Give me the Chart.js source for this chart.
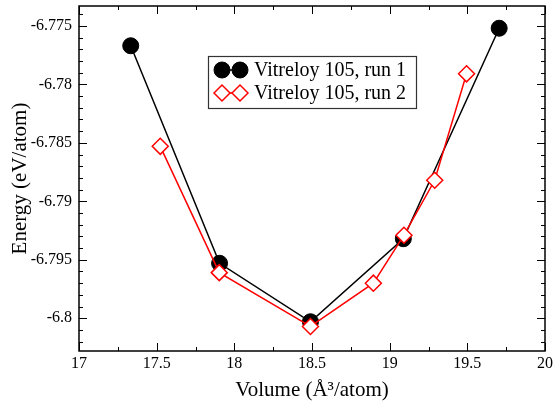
<!DOCTYPE html>
<html>
<head>
<meta charset="utf-8">
<script src="https://cdn.jsdelivr.net/npm/chart.js@4/dist/chart.umd.min.js"></script>
<style>
  html, body { margin: 0; padding: 0; background: #fff; }
  #wrap { width: 554px; height: 406px; }
</style>
</head>
<body>
<div id="wrap"><canvas id="myChart" width="554" height="406"></canvas></div>
<script>
// run 1 (black circles)
const run1Volume = [17.333, 17.905, 18.49, 19.088, 19.705];
const run1Energy = [-6.7767, -6.7953, -6.8003, -6.7932, -6.7752];
// run 2 (red diamonds)
const run2Volume = [17.523, 17.903, 18.49, 18.895, 19.092, 19.29, 19.495];
const run2Energy = [-6.7853, -6.7961, -6.8007, -6.797, -6.7929, -6.7882, -6.7791];

const seriesNames = ['Vitreloy 105, run 1', 'Vitreloy 105, run 2'];
const xTicks = [17, 17.5, 18, 18.5, 19, 19.5, 20];
const yTicks = [-6.8, -6.795, -6.79, -6.785, -6.78, -6.775];
const xMinorStep = 0.25;
const yMinorStep = 0.001;

const serif = "'Liberation Serif', 'Times New Roman', serif";
Chart.defaults.font.family = serif;
Chart.defaults.color = '#000';

const toPts = (xs, ys) => xs.map((x, i) => ({x: x, y: ys[i]}));

// frame + inward ticks like xmgrace
const framePlugin = {
    id: 'frame',
    afterDatasetsDraw(chart) {
        const ctx = chart.ctx;
        const a = chart.chartArea;
        const xs = chart.scales.x, ys = chart.scales.y;
        ctx.save();
        ctx.strokeStyle = '#000';
        ctx.lineWidth = 1.5;
        ctx.strokeRect(a.left, a.top, a.right - a.left, a.bottom - a.top);
        ctx.lineWidth = 1;
        ctx.beginPath();
        for (let v = xs.min; v <= xs.max + 1e-9; v += xMinorStep) {
            const major = xTicks.some(t => Math.abs(t - v) < 1e-9);
            const len = major ? 8 : 4;
            const px = Math.round(xs.getPixelForValue(v)) + 0.5;
            ctx.moveTo(px, a.bottom); ctx.lineTo(px, a.bottom - len);
            ctx.moveTo(px, a.top); ctx.lineTo(px, a.top + len);
        }
        const start = Math.ceil(ys.min / yMinorStep) * yMinorStep;
        for (let v = start; v <= ys.max + 1e-9; v += yMinorStep) {
            const major = yTicks.some(t => Math.abs(t - v) < 1e-7);
            const len = major ? 8 : 4;
            const py = Math.round(ys.getPixelForValue(v)) + 0.5;
            ctx.moveTo(a.left, py); ctx.lineTo(a.left + len, py);
            ctx.moveTo(a.right, py); ctx.lineTo(a.right - len, py);
        }
        ctx.stroke();
        ctx.restore();
    },
    afterDraw(chart) {
        // legend box
        const ctx = chart.ctx;
        const bx = 208, by = 56, bw = 208, bh = 52;
        ctx.save();
        ctx.fillStyle = '#fff';
        ctx.fillRect(bx, by, bw, bh);
        ctx.strokeStyle = '#333';
        ctx.lineWidth = 1.2;
        ctx.strokeRect(bx + 0.5, by + 0.5, bw, bh);
        const rows = [by + 14, by + 37];
        chart.data.datasets.forEach((ds) => {
            const row = ds.legendRow;
            const y = rows[row];
            const x1 = 222, x2 = 240;
            ctx.strokeStyle = ds.borderColor;
            ctx.lineWidth = ds.borderWidth;
            ctx.beginPath();
            ctx.moveTo(x1, y); ctx.lineTo(x2, y);
            ctx.stroke();
            [x1, x2].forEach(x => {
                ctx.fillStyle = ds.pointBackgroundColor;
                ctx.strokeStyle = ds.pointBorderColor;
                ctx.lineWidth = ds.pointBorderWidth;
                ctx.beginPath();
                if (ds.pointStyle === 'circle') {
                    ctx.arc(x, y, ds.pointRadius, 0, Math.PI * 2);
                } else {
                    const r = ds.pointRadius;
                    ctx.moveTo(x - r, y); ctx.lineTo(x, y - r);
                    ctx.lineTo(x + r, y); ctx.lineTo(x, y + r);
                    ctx.closePath();
                }
                ctx.fill();
                ctx.stroke();
            });
            ctx.fillStyle = '#000';
            ctx.font = '20px ' + serif;
            ctx.textBaseline = 'middle';
            ctx.textAlign = 'left';
            ctx.fillText(seriesNames[row], 254, y + 1);
        });
        ctx.restore();
    }
};

const ctx = document.getElementById('myChart').getContext('2d');
const myChart = new Chart(ctx, {
    type: 'scatter',
    data: {
        datasets: [{
            label: seriesNames[1],
            legendRow: 1,
            data: toPts(run2Volume, run2Energy),
            showLine: true,
            borderColor: '#ff0000',
            borderWidth: 1.5,
            pointStyle: 'rectRot',
            pointRadius: 8,
            pointHoverRadius: 8,
            pointBackgroundColor: '#ffffff',
            pointBorderColor: '#ff0000',
            pointBorderWidth: 1.5,
            order: 0
        }, {
            label: seriesNames[0],
            legendRow: 0,
            data: toPts(run1Volume, run1Energy),
            showLine: true,
            borderColor: '#000000',
            borderWidth: 1.5,
            pointStyle: 'circle',
            pointRadius: 8,
            pointHoverRadius: 8,
            pointBackgroundColor: '#000000',
            pointBorderColor: '#000000',
            pointBorderWidth: 1,
            order: 1
        }]
    },
    options: {
        responsive: false,
        animation: false,
        events: [],
        layout: { autoPadding: false, padding: { top: 6, right: 9, left: 0, bottom: 0 } },
        plugins: {
            legend: { display: false },
            tooltip: { enabled: false }
        },
        scales: {
            x: {
                type: 'linear',
                min: 17,
                max: 20,
                afterBuildTicks: (scale) => { scale.ticks = xTicks.map(v => ({value: v})); },
                afterFit: (scale) => {
                    scale.height = 55;
                    scale.paddingLeft = 0;
                    scale.paddingRight = 0;
                },
                grid: { display: false, drawTicks: false },
                border: { display: false },
                ticks: {
                    color: '#000',
                    font: { family: serif, size: 16 },
                    padding: 3,
                    maxRotation: 0,
                    callback: (v) => String(v)
                },
                title: {
                    display: true,
                    text: 'Volume (Å³/atom)',
                    color: '#000',
                    font: { family: serif, size: 21 },
                    padding: { top: 0, bottom: 3 }
                }
            },
            y: {
                type: 'linear',
                min: -6.8028,
                max: -6.7733,
                afterBuildTicks: (scale) => { scale.ticks = yTicks.map(v => ({value: v})); },
                afterFit: (scale) => {
                    scale.width = 79;
                    scale.paddingTop = 0;
                    scale.paddingBottom = 0;
                },
                grid: { display: false, drawTicks: false },
                border: { display: false },
                ticks: {
                    color: '#000',
                    font: { family: serif, size: 16 },
                    padding: 7,
                    callback: (v) => String(v)
                },
                title: {
                    display: true,
                    text: 'Energy (eV/atom)',
                    color: '#000',
                    font: { family: serif, size: 21 },
                    padding: { top: 8, bottom: 0 }
                }
            }
        }
    },
    plugins: [framePlugin]
});
</script>
</body>
</html>
